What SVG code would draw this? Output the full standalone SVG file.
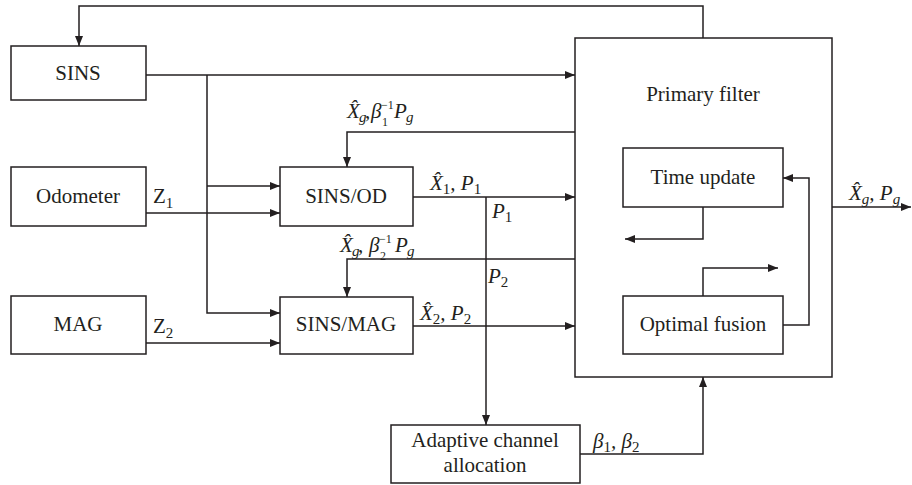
<svg xmlns="http://www.w3.org/2000/svg" width="912" height="485" viewBox="0 0 912 485">
<style>
.box{fill:#fff;stroke:#231f20;stroke-width:1.5}
.ln{fill:none;stroke:#231f20;stroke-width:1.5}
.t{font-family:"Liberation Serif","Times New Roman",serif;font-size:21px;fill:#231f20}
.c{text-anchor:middle}
.i{font-style:italic}
.s{font-size:15px}
.u{font-size:12px}
</style>
<defs>
<marker id="ah" markerWidth="10" markerHeight="8" refX="10" refY="4" orient="auto" markerUnits="userSpaceOnUse">
<path d="M0,0 L10,4 L0,8 Z" fill="#231f20"/>
</marker>
</defs>
<rect width="912" height="485" fill="#fff"/>
<g id="primary">
<rect class="box" x="575" y="38" width="257" height="339"/>
<text class="t c" x="703" y="101">Primary filter</text>
</g>
<g id="sins">
<rect class="box" x="11" y="46" width="135" height="54"/>
<text class="t c" x="78" y="80">SINS</text>
</g>
<g id="odometer">
<rect class="box" x="11" y="167" width="135" height="59"/>
<text class="t c" x="78" y="203">Odometer</text>
</g>
<g id="mag">
<rect class="box" x="11" y="296" width="135" height="58"/>
<text class="t c" x="78" y="331">MAG</text>
</g>
<g id="sinsod">
<rect class="box" x="280" y="167" width="133" height="59"/>
<text class="t c" x="346" y="203">SINS/OD</text>
</g>
<g id="sinsmag">
<rect class="box" x="280" y="297" width="133" height="57"/>
<text class="t c" x="346" y="331">SINS/MAG</text>
</g>
<g id="timeupdate">
<rect class="box" x="623" y="148" width="160" height="59"/>
<text class="t c" x="703" y="184">Time update</text>
</g>
<g id="optimalfusion">
<rect class="box" x="623" y="296" width="160" height="58"/>
<text class="t c" x="703" y="331">Optimal fusion</text>
</g>
<g id="adaptive">
<rect class="box" x="391" y="425" width="189" height="58"/>
<text class="t c" x="485" y="447">Adaptive channel</text>
<text class="t c" x="485" y="472">allocation</text>
</g>
<g id="connectors">
<path class="ln" d="M146,75 H575" marker-end="url(#ah)"/>
<path class="ln" d="M207,75 V313 H280" marker-end="url(#ah)"/>
<path class="ln" d="M207,186 H280" marker-end="url(#ah)"/>
<path class="ln" d="M146,213 H280" marker-end="url(#ah)"/>
<path class="ln" d="M146,343 H280" marker-end="url(#ah)"/>
<path class="ln" d="M703,38 V6 H79 V46" marker-end="url(#ah)"/>
<path class="ln" d="M575,132 H347 V167" marker-end="url(#ah)"/>
<path class="ln" d="M575,259 H347 V297" marker-end="url(#ah)"/>
<path class="ln" d="M413,197 H575" marker-end="url(#ah)"/>
<path class="ln" d="M413,326 H575" marker-end="url(#ah)"/>
<path class="ln" d="M486,197 V425" marker-end="url(#ah)"/>
<path class="ln" d="M580,454 H703 V377" marker-end="url(#ah)"/>
<path class="ln" d="M832,207 H911" marker-end="url(#ah)"/>
<path class="ln" d="M703,207 V239 H625" marker-end="url(#ah)"/>
<path class="ln" d="M703,296 V268 H778" marker-end="url(#ah)"/>
<path class="ln" d="M783,325 H809 V178 H783" marker-end="url(#ah)"/>
</g>
<g id="labels">
<text class="t" x="153" y="203">Z<tspan class="s" dy="5">1</tspan></text>
<text class="t" x="153" y="333">Z<tspan class="s" dy="5">2</tspan></text>
<text class="t i" x="347" y="118">X̂</text>
<text class="t i s" x="359" y="122">g</text>
<text class="t" x="365" y="118">,</text>
<text class="t i" x="371" y="118">β</text>
<text class="t u" x="382" y="126">1</text>
<text class="t u" x="381" y="109">−1</text>
<text class="t i" x="394" y="118">P</text>
<text class="t i s" x="406" y="122">g</text>
<text class="t i" x="340" y="252">X̂</text>
<text class="t i s" x="352" y="256">g</text>
<text class="t" x="358" y="252">,</text>
<text class="t i" x="369" y="252">β</text>
<text class="t u" x="380" y="260">2</text>
<text class="t u" x="379" y="243">−1</text>
<text class="t i" x="395" y="252">P</text>
<text class="t i s" x="407" y="256">g</text>
<text class="t i" x="430" y="190">X̂<tspan class="s" dy="4" font-style="normal">1</tspan><tspan dy="-4">, P</tspan><tspan class="s" dy="4" font-style="normal">1</tspan></text>
<text class="t i" x="420" y="320">X̂<tspan class="s" dy="4" font-style="normal">2</tspan><tspan dy="-4">, P</tspan><tspan class="s" dy="4" font-style="normal">2</tspan></text>
<text class="t i" x="492" y="218">P<tspan class="s" dy="4" font-style="normal">1</tspan></text>
<text class="t i" x="488" y="283">P<tspan class="s" dy="4" font-style="normal">2</tspan></text>
<text class="t i" x="849" y="200">X̂<tspan class="s" dy="4">g</tspan><tspan dy="-4">, P</tspan><tspan class="s" dy="4">g</tspan></text>
<text class="t i" x="593" y="448">β<tspan class="s" dy="4" font-style="normal">1</tspan><tspan dy="-4">, β</tspan><tspan class="s" dy="4" font-style="normal">2</tspan></text>
</g>
</svg>
